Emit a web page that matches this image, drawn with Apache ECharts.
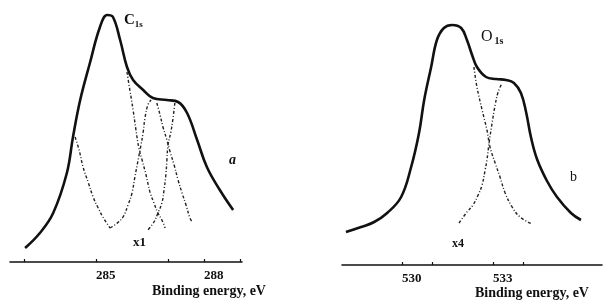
<!DOCTYPE html>
<html>
<head>
<meta charset="utf-8">
<script src="https://cdn.jsdelivr.net/npm/echarts@6/dist/echarts.min.js"></script>
<style>html,body{margin:0;padding:0;background:#fff}#c{width:608px;height:303px}</style>
</head>
<body>
<div id="c"></div>
<script>
// C1s panel (binding energy eV, intensity a.u.)
const c1sEnvelope = [[283.03,14],[283.44,29],[283.81,49],[284.19,89],[284.36,125],[284.56,162],[284.83,199],[285.11,235],[285.31,247],[285.47,245],[285.67,222],[285.86,195],[286.03,182],[286.31,172],[286.58,164],[286.97,162],[287.28,160],[287.53,149],[287.81,122],[288.08,95],[288.44,72],[288.81,52]];
const c1sCompA = [[284.42,125],[284.53,112],[284.64,95],[284.78,80],[284.92,65],[285.06,54],[285.19,45],[285.39,34]];
const c1sCompB = [[285.39,34],[285.56,38],[285.75,45],[285.89,57],[286.0,69],[286.08,85],[286.17,102],[286.25,117],[286.31,130],[286.36,144],[286.44,157],[286.53,162]];
const c1sCompC = [[285.86,190],[285.94,172],[286.03,152],[286.11,132],[286.19,114],[286.28,102],[286.39,87],[286.5,70],[286.61,59],[286.72,49],[286.83,42],[286.92,34]];
const c1sCompD = [[287.19,159],[287.14,144],[287.08,130],[287.0,117],[286.97,102],[286.94,87],[286.89,72],[286.83,59],[286.72,49],[286.61,40],[286.44,32]];
const c1sCompE = [[286.69,159],[286.78,147],[286.86,135],[286.97,122],[287.06,110],[287.17,97],[287.28,82],[287.39,69],[287.5,57],[287.61,44],[287.67,40]];
// O1s panel
const o1sEnvelope = [[528.15,33],[528.65,38],[529.08,43],[529.51,52],[529.97,68],[530.3,98],[530.56,132],[530.73,165],[530.96,198],[531.15,225],[531.38,237],[531.65,240],[531.95,237],[532.14,225],[532.31,210],[532.47,198],[532.77,188],[533.1,186],[533.43,185],[533.69,182],[533.92,172],[534.09,153],[534.25,128],[534.45,106],[534.78,84],[535.11,68],[535.57,52],[535.9,45]];
const o1sCompF = [[532.37,198],[532.47,178],[532.64,155],[532.8,135],[532.9,118],[533.07,102],[533.23,88],[533.4,72],[533.63,58],[533.89,48],[534.29,41]];
const o1sCompG = [[531.88,42],[532.14,53],[532.34,60],[532.51,70],[532.64,80],[532.74,95],[532.8,105],[532.87,122],[532.97,142],[533.07,160],[533.17,173],[533.3,182]];
// axis ticks / labels
const leftTicks = [283, 285, 287, 288, 289];
const leftLabels = [285, 288];
const rightTicks = [530, 531, 533, 534];
const rightLabels = [530, 533];
const xTitle = 'Binding energy, eV';

const serif = '"Liberation Serif", "DejaVu Serif", serif';
const dashStyle = {color:'#222', width:1.4, type:[3,2,1,2]};
function line(data, xi, solid){
  return {type:'line', xAxisIndex:xi, yAxisIndex:xi, data:data, smooth:0.4, symbol:'none', silent:true,
    lineStyle: solid ? {color:'#111', width:2.6} : dashStyle, z: solid?3:2};
}
function xAxis(gi, min, max, ticks, labels){
  return {type:'value', gridIndex:gi, min:min, max:max, splitLine:{show:false},
    axisLine:{show:true, onZero:false, lineStyle:{color:'#111', width:1.6}},
    axisTick:{show:true, inside:true, length:3, customValues:ticks, lineStyle:{color:'#111', width:1.2}},
    axisLabel:{show:true, customValues:labels, align:'left', margin:7, color:'#111',
      fontFamily:serif, fontWeight:'bold', fontSize:13}};
}
const chart = echarts.init(document.getElementById('c'), null, {renderer:'canvas'});
chart.setOption({
  animation:false,
  backgroundColor:'#fff',
  grid:[{left:10, width:232, top:10, bottom:41}, {left:342, width:260, top:13, bottom:38}],
  xAxis:[xAxis(0, 282.61, 289.056, leftTicks, leftLabels), xAxis(1, 528.02, 536.594, rightTicks, rightLabels)],
  yAxis:[{type:'value', gridIndex:0, min:0, max:252, show:false}, {type:'value', gridIndex:1, min:0, max:252, show:false}],
  series:[
    line(c1sEnvelope,0,true), line(c1sCompA,0), line(c1sCompB,0), line(c1sCompC,0), line(c1sCompD,0), line(c1sCompE,0),
    line(o1sEnvelope,1,true), line(o1sCompF,1), line(o1sCompG,1)
  ],
  graphic:[
    {type:'text', left:124, top:13, style:{text:'{m|C}{s|1s}', rich:{m:{fontFamily:serif, fontWeight:'bold', fontSize:15, fill:'#111'}, s:{fontFamily:serif, fontWeight:'bold', fontSize:9, fill:'#111', padding:[8,0,0,0]}}}},
    {type:'text', left:481, top:29, style:{text:'{m|O}{s|1s}', rich:{m:{fontFamily:serif, fontSize:16, fill:'#111'}, s:{fontFamily:serif, fontWeight:'bold', fontSize:10, fill:'#111', padding:[8,0,0,2]}}}},
    {type:'text', left:229, top:153, style:{text:'a', fontFamily:serif, fontStyle:'italic', fontWeight:'bold', fontSize:14, fill:'#111'}},
    {type:'text', left:570, top:170, style:{text:'b', fontFamily:serif, fontSize:14, fill:'#111'}},
    {type:'text', left:133, top:236, style:{text:'x1', fontFamily:serif, fontWeight:'bold', fontSize:13, fill:'#111'}},
    {type:'text', left:452, top:238, style:{text:'x4', fontFamily:serif, fontWeight:'bold', fontSize:12, fill:'#111'}},
    {type:'text', left:152, top:284, style:{text:xTitle, fontFamily:serif, fontWeight:'bold', fontSize:14, fill:'#111'}},
    {type:'text', left:475, top:286, style:{text:xTitle, fontFamily:serif, fontWeight:'bold', fontSize:14, fill:'#111'}}
  ]
});
</script>
</body>
</html>
